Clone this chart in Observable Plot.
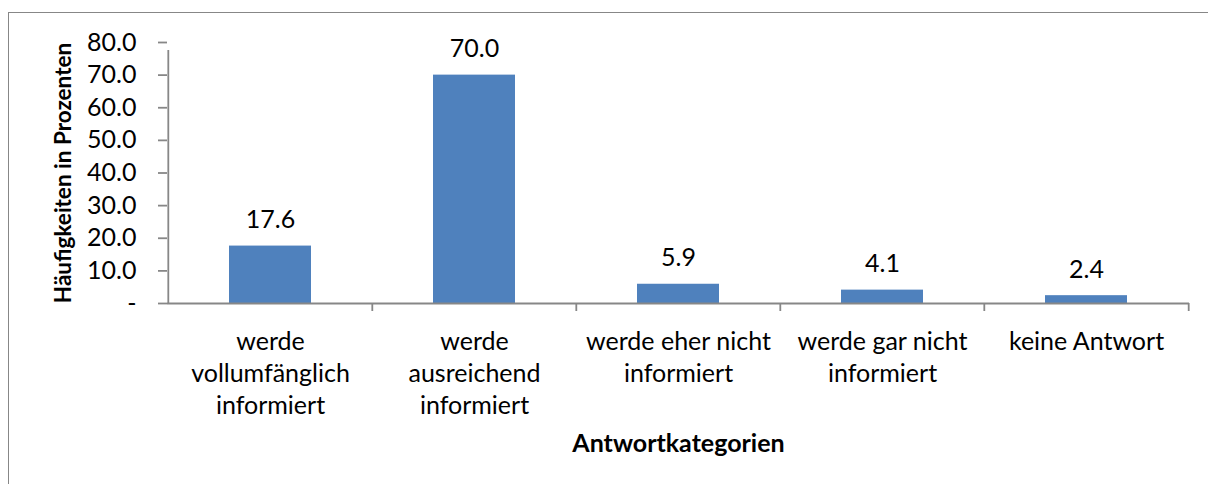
<!DOCTYPE html>
<html>
<head>
<meta charset="utf-8">
<script src="https://cdn.jsdelivr.net/npm/d3@7"></script>
<script src="https://cdn.jsdelivr.net/npm/@observablehq/plot@0.6"></script>
<style>
  html, body { margin: 0; padding: 0; background: #fff; overflow: hidden; width: 1208px; height: 484px; }
  #wrap { position: relative; width: 1208px; height: 484px; }
  #border { position: absolute; left: 8px; top: 12px; width: 1400px; height: 700px; border: 1.5px solid #878787; box-sizing: border-box; pointer-events: none; }
  #chart { position: absolute; left: 0; top: 0; }
  svg { font-family: Lato, "Open Sans", sans-serif; }
</style>
</head>
<body>
<div id="wrap"><div id="chart"></div><div id="border"></div></div>
<script>
const categories = [
  "werde\nvollumfänglich\ninformiert",
  "werde\nausreichend\ninformiert",
  "werde eher nicht\ninformiert",
  "werde gar nicht\ninformiert",
  "keine Antwort"
];
const values = [17.6, 70.0, 5.9, 4.1, 2.4];
const yTicks = [0, 10, 20, 30, 40, 50, 60, 70, 80];
const yTitle = "Häufigkeiten in Prozenten";
const xTitle = "Antwortkategorien";

const data = categories.map((c, i) => ({cat: c, value: values[i]}));

const W = 1208, H = 484;
const mL = 167, mR = 19, mT = 42, mB = 181;
const step = (W - mL - mR) / categories.length;
const axisColor = "#878787";
const fs = 25;

const plot = Plot.plot({
  width: W,
  height: H,
  marginLeft: mL,
  marginRight: mR,
  marginTop: mT,
  marginBottom: mB,
  style: {fontFamily: "Lato, 'Open Sans', sans-serif", color: "black", background: "transparent"},
  x: {type: "band", domain: categories, paddingInner: 0.6, paddingOuter: 0.3, label: null},
  y: {domain: [0, 80], label: null},
  marks: [
    Plot.barY(data, {x: "cat", y: "value", fill: "#4F81BD"}),
    Plot.ruleY([0], {stroke: axisColor, strokeWidth: 1.8}),
    Plot.ruleX(categories, {x: d => d, dx: -step / 2, y1: 0, y2: (d, i) => i === 0 ? 80 : 0, insetBottom: -8, stroke: axisColor, strokeWidth: 1.8}),
    Plot.ruleX(categories.slice(-1), {x: d => d, dx: step / 2, y1: 0, y2: 0, insetBottom: -8, stroke: axisColor, strokeWidth: 1.8}),
    Plot.axisY({ticks: yTicks, tickSize: 9, tickPadding: 22, tickFormat: d => d === 0 ? "-" : d.toFixed(1), stroke: axisColor, strokeWidth: 1.8, fill: "black", fontSize: fs, label: null}),
    Plot.axisX({tickSize: 0, tickPadding: 24, fontSize: fs, lineHeight: 1.28, fill: "black", label: null}),
    Plot.text(data, {x: "cat", y: "value", text: d => d.value.toFixed(1), dy: -26, fontSize: fs, fill: "black"}),
    Plot.text([yTitle], {text: d => d, frameAnchor: "left", textAnchor: "middle", lineAnchor: "middle", rotate: -90, dx: -104, fontSize: 22.5, fontWeight: "bold", fill: "black"}),
    Plot.text([xTitle], {text: d => d, frameAnchor: "bottom", textAnchor: "middle", lineAnchor: "middle", dy: 140, fontSize: fs, fontWeight: "bold", fill: "black"})
  ]
});
document.getElementById("chart").appendChild(plot);
</script>
</body>
</html>
